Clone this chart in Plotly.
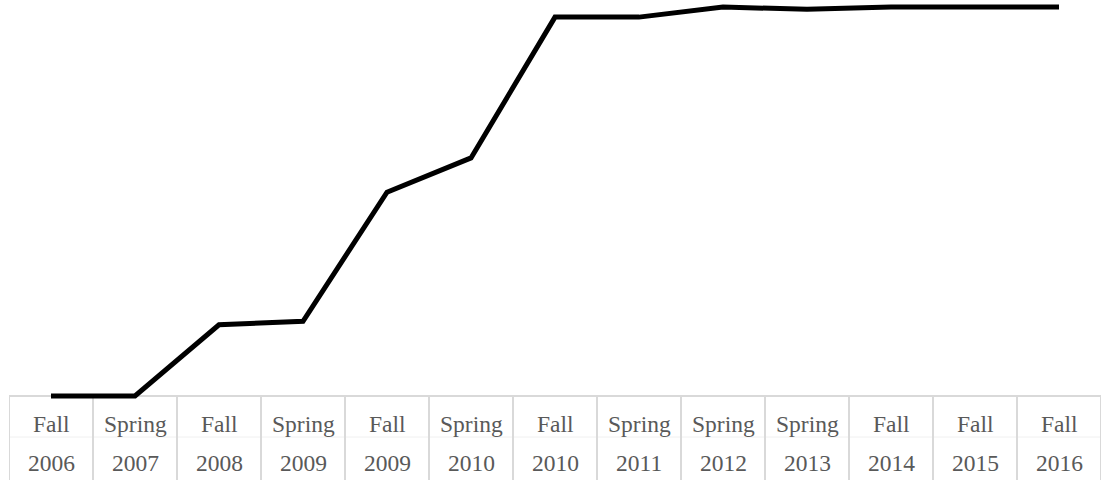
import plotly.graph_objects as go

seasons = ["Fall", "Spring", "Fall", "Spring", "Fall", "Spring", "Fall",
           "Spring", "Spring", "Spring", "Fall", "Fall", "Fall"]
years = ["2006", "2007", "2008", "2009", "2009", "2010", "2010",
         "2011", "2012", "2013", "2014", "2015", "2016"]
values = [0, 0, 18.3, 19.2, 52.4, 61.2, 97.4, 97.4, 100, 99.4, 100, 100, 100]

categories = [f"{s} {y}" for s, y in zip(seasons, years)]

fig = go.Figure()
fig.add_trace(go.Scatter(
    x=categories, y=values, mode="lines",
    line=dict(color="#000000", width=5),
    hoverinfo="skip", showlegend=False,
))

FONT = "Liberation Serif, Times New Roman, serif"
TXT = "#595959"
BORDER = "#d9d9d9"

shapes = []
# top border of the label table
shapes.append(dict(type="line", xref="paper", yref="y", x0=0, x1=1, y0=0, y1=0,
                   line=dict(color=BORDER, width=2), layer="below"))
# faint row divider
shapes.append(dict(type="line", xref="paper", yref="paper", x0=0, x1=1,
                   y0=-0.0925, y1=-0.0925,
                   line=dict(color="#f0f0f0", width=1), layer="below"))
# vertical cell borders between categories
for i in range(len(categories) + 1):
    shapes.append(dict(type="line", xref="x", yref="paper",
                       x0=i - 0.5, x1=i - 0.5, y0=0.01, y1=-0.25,
                       line=dict(color=BORDER, width=2), layer="below"))

annotations = []
for c, s, y in zip(categories, seasons, years):
    annotations.append(dict(x=c, xref="x", y=-0.06, yref="paper", text=s,
                            showarrow=False, yanchor="middle", xanchor="center",
                            font=dict(family=FONT, size=23.5, color=TXT)))
    annotations.append(dict(x=c, xref="x", y=-0.1575, yref="paper", text=y,
                            showarrow=False, yanchor="middle", xanchor="center",
                            font=dict(family=FONT, size=23.5, color=TXT)))

fig.update_layout(
    width=1105, height=480,
    margin=dict(l=9, r=4, t=0, b=80),
    paper_bgcolor="white", plot_bgcolor="white",
    hovermode=False,
    xaxis=dict(type="category", range=[-0.5, len(categories) - 0.5],
               showticklabels=False, showgrid=False, zeroline=False,
               showline=False, ticks=""),
    yaxis=dict(range=[-1.03, 101.8], showticklabels=False, showgrid=False,
               zeroline=False, showline=False, ticks=""),
    shapes=shapes, annotations=annotations,
)

fig.write_html("out.html",
               config={"displayModeBar": False, "staticPlot": True},
               post_script="document.body.style.margin='0px';"
                           "document.body.style.overflow='hidden';")
